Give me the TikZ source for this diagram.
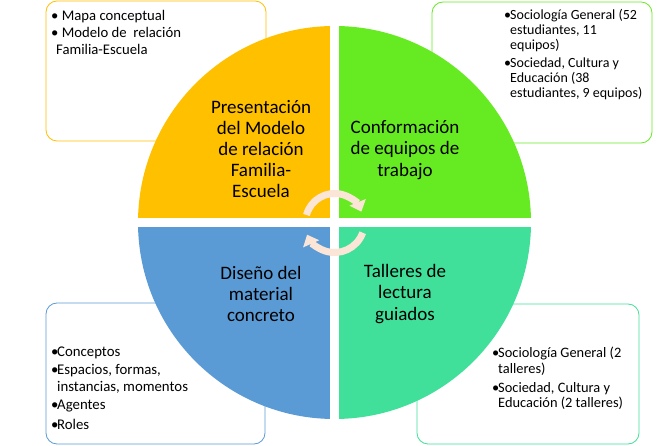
\documentclass[tikz,border=0pt]{standalone}
\usepackage{fontspec}
\setmainfont{Carlito}
\usetikzlibrary{arrows.meta}

\definecolor{qorange}{RGB}{255,192,0}
\definecolor{qgreen}{RGB}{102,235,34}
\definecolor{qblue}{RGB}{91,155,213}
\definecolor{qteal}{RGB}{65,224,154}
\definecolor{qpeach}{RGB}{251,229,214}

\newcommand{\bul}{\makebox[6pt][l]{\textbullet}}
\newcommand{\ind}{\hspace*{6pt}}

\tikzset{
    infobox/.style={rounded corners=11pt, line width=0.8pt, fill=white},
    boxtext/.style={anchor=north west, align=left, inner sep=0pt},
    quadtext/.style={align=center, inner sep=0pt, font=\fontsize{19}{21.2}\selectfont},
    cycarrow/.style={line width=7pt, draw=qpeach, -{Triangle[width=17pt,length=10pt]}}
}

\begin{document}
\begin{tikzpicture}[x=1pt, y=1pt]
    \useasboundingbox (0,0) rectangle (666,446);
    % Side boxes
    \draw[infobox, draw=qorange] (46,445) rectangle (266,305);
    \draw[infobox, draw=qgreen] (432,444) rectangle (652,303);
    \draw[infobox, draw=qblue] (46,143) rectangle (265,2);
    \draw[infobox, draw=qteal] (417,142) rectangle (639,2);
    % Quadrants of the circle
    \def\R{196.5};
    \coordinate (hub) at (334.5,223.5);
    \fill[qorange] (hub) -- ++(180:\R) arc[start angle=180, end angle=90, radius=\R] -- cycle;
    \fill[qgreen] (hub) -- ++(90:\R) arc[start angle=90, end angle=0, radius=\R] -- cycle;
    \fill[qteal] (hub) -- ++(0:\R) arc[start angle=0, end angle=-90, radius=\R] -- cycle;
    \fill[qblue] (hub) -- ++(-90:\R) arc[start angle=-90, end angle=-180, radius=\R] -- cycle;
    % White cross between the quadrants
    \fill[white] (330,25) rectangle (339,422);
    \fill[white] (136,219) rectangle (533,228);
    % Quadrant titles
    \node[quadtext] (present) at (261,297) {Presentación\\del Modelo\\de relación\\Familia-\\Escuela};
    \node[quadtext] (equipos) at (405,296) {Conformación\\de equipos de\\trabajo};
    \node[quadtext] (diseno) at (261,152) {Diseño del\\material\\concreto};
    \node[quadtext] (talleres) at (405,152) {Talleres de\\lectura\\guiados};
    % Box contents
    \node[boxtext, font=\fontsize{14.7}{17}\selectfont] (mapa) at (51,436)
        {\textbullet\ Mapa conceptual\\\textbullet\ Modelo de\ \ relación\\\hspace*{5pt}Familia-Escuela};
    \node[boxtext, font=\fontsize{14}{15}\selectfont] (grupos) at (504,437)
        {\bul Sociología General (52\\\ind estudiantes, 11\\\ind equipos)\\[3pt]
         \bul Sociedad, Cultura y\\\ind Educación (38\\\ind estudiantes, 9 equipos)};
    \node[boxtext, font=\fontsize{14.8}{17}\selectfont] (material) at (51,99)
        {\bul Conceptos\\[1pt]\bul Espacios, formas,\\\ind instancias, momentos\\[0.5pt]
         \bul Agentes\\[3.5pt]\bul Roles};
    \node[boxtext, font=\fontsize{14.4}{15.5}\selectfont] (lectura) at (492,99)
        {\bul Sociología General (2\\\ind talleres)\\[3.5pt]
         \bul Sociedad, Cultura y\\\ind Educación (2 talleres)};
    % Cycle arrows in the middle
    \draw[cycarrow] ([shift={(165:29)}]hub) arc[start angle=165, end angle=22, radius=29];
    \draw[cycarrow] ([shift={(-20:30)}]hub) arc[start angle=-20, end angle=-156, radius=30];
\end{tikzpicture}
\end{document}
